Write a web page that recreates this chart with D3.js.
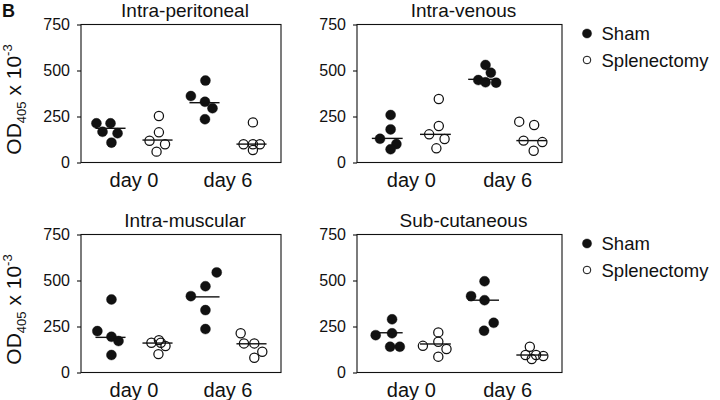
<!DOCTYPE html>
<html>
<head>
<meta charset="utf-8">
<script src="https://cdn.jsdelivr.net/npm/d3@7"></script>
<style>
  body { margin: 0; background: #fff; }
  svg { display: block; font-family: "Liberation Sans", Arial, Helvetica, sans-serif; }
</style>
</head>
<body>
<svg id="chart" width="720" height="400"></svg>
<script>
// ---------------- data ----------------
const days = ["day 0", "day 6"];
const groups = ["Sham", "Splenectomy"];
const yTicks = [0, 250, 500, 750];
const titles = ["Intra-peritoneal", "Intra-venous", "Intra-muscular", "Sub-cutaneous"];

// order of sub-arrays: Sham day 0, Splenectomy day 0, Sham day 6, Splenectomy day 6
const ipValues = [[213, 213, 167, 159, 108], [253, 164, 118, 99, 59], [445, 361, 330, 295, 235], [218, 99, 99, 99, 68]];
const ivValues = [[258, 180, 129, 100, 72], [345, 198, 153, 128, 77], [530, 488, 448, 436, 434], [222, 204, 119, 111, 64]];
const imValues = [[397, 225, 194, 171, 95], [162, 176, 162, 144, 100], [544, 469, 415, 339, 236], [213, 158, 158, 113, 80]];
const scValues = [[289, 203, 213, 140, 140], [218, 167, 145, 128, 86], [496, 415, 393, 270, 227], [140, 95, 95, 90, 73]];

// horizontal bar (median) values
const ipMedians = [186, 122, 325, 100];
const ivMedians = [131, 153, 452, 119];
const imMedians = [191, 160, 411, 156];
const scMedians = [216, 155, 393, 95];

// horizontal scatter of each point (fraction of one group slot)
const ipJitter = [[-0.30, 0, -0.17, 0.15, 0.02], [0.03, 0.03, -0.17, 0.16, -0.02], [0.02, -0.29, 0.01, 0.17, 0.01], [0.03, -0.17, 0.03, 0.18, 0.03]];
const ivJitter = [[0.07, 0.07, -0.15, 0.19, 0.07], [0.07, 0.07, -0.13, 0.19, 0.02], [0.04, 0.15, -0.11, 0.04, 0.26], [-0.26, 0.05, -0.17, 0.22, 0.04]];
const imJitter = [[0.02, -0.28, 0.02, 0.17, 0.02], [-0.13, 0.03, 0.07, 0.17, 0.02], [0.26, 0.02, -0.29, 0.02, 0.02], [-0.23, -0.16, 0.06, 0.23, 0.06]];
const scJitter = [[0.10, -0.24, 0.10, 0.06, 0.26], [0.06, 0.06, -0.26, 0.23, 0.06], [0.02, -0.26, 0.02, 0.21, 0.01], [-0.04, -0.13, 0.09, 0.24, 0]];

// ---------------- layout ----------------
const panels = [
  { title: titles[0], values: ipValues, medians: ipMedians, jitter: ipJitter, x0: 81,  x1: 281, y0: 24.5,  y1: 162.5, legend: false, ylabel: true },
  { title: titles[1], values: ivValues, medians: ivMedians, jitter: ivJitter, x0: 357, x1: 562, y0: 24.5,  y1: 162.5, legend: true,  ylabel: false },
  { title: titles[2], values: imValues, medians: imMedians, jitter: imJitter, x0: 81,  x1: 281, y0: 234.5, y1: 372.5, legend: false, ylabel: true },
  { title: titles[3], values: scValues, medians: scMedians, jitter: scJitter, x0: 357, x1: 562, y0: 234.5, y1: 372.5, legend: true,  ylabel: false }
];

const ink = "#111";
const svg = d3.select("#chart");

svg.append("text")
  .attr("x", 2).attr("y", 17)
  .attr("font-size", 18).attr("font-weight", "bold").attr("fill", ink)
  .text("B");

panels.forEach(p => {
  const y = d3.scaleLinear().domain([0, 750]).range([p.y1, p.y0]);
  const xDay = d3.scaleBand().domain(days).range([p.x0, p.x1]).paddingInner(0).paddingOuter(0.064);
  const xGrp = d3.scaleBand().domain(groups).range([0, xDay.bandwidth()]);
  const slot = xGrp.bandwidth();

  const g = svg.append("g");

  // frame
  g.append("rect")
    .attr("x", p.x0).attr("y", p.y0)
    .attr("width", p.x1 - p.x0).attr("height", p.y1 - p.y0)
    .attr("fill", "none").attr("stroke", ink).attr("stroke-width", 1.1);

  // y axis
  g.append("g")
    .attr("transform", `translate(${p.x0},0)`)
    .call(d3.axisLeft(y).tickValues(yTicks).tickSize(4).tickPadding(7).tickFormat(d3.format("d")))
    .call(a => a.select(".domain").remove())
    .call(a => a.selectAll("line").attr("stroke", ink).attr("stroke-width", 1.1))
    .call(a => a.selectAll("text").attr("font-size", 16).attr("fill", ink).attr("font-family", null));

  // x axis labels
  g.append("g")
    .attr("transform", `translate(0,${p.y1})`)
    .call(d3.axisBottom(xDay).tickSize(0))
    .call(a => a.select(".domain").remove())
    .call(a => a.selectAll("text").attr("dy", null).attr("y", 24)
      .attr("font-size", 20).attr("fill", ink).attr("font-family", null));

  // title
  g.append("text")
    .attr("x", (p.x0 + p.x1) / 2 + 4).attr("y", p.y0 - 7.5)
    .attr("text-anchor", "middle").attr("font-size", 19).attr("fill", ink)
    .text(p.title);

  // data
  const cells = [];
  days.forEach((d, di) => groups.forEach((grp, gi) => cells.push({ day: d, group: grp, idx: di * 2 + gi })));

  cells.forEach(c => {
    const cx = xDay(c.day) + xGrp(c.group) + slot / 2;
    const vals = p.values[c.idx];
    const jit = p.jitter[c.idx];
    const filled = c.group === "Sham";
    g.selectAll(null)
      .data(vals.map((v, i) => ({ v, j: jit[i] })))
      .join("circle")
      .attr("cx", d => cx + d.j * slot)
      .attr("cy", d => y(d.v))
      .attr("r", filled ? 5 : 4.6)
      .attr("fill", filled ? ink : "none")
      .attr("stroke", ink)
      .attr("stroke-width", filled ? 0.4 : 1.25);
    const m = p.medians[c.idx];
    g.append("line")
      .attr("x1", cx - 0.32 * slot).attr("x2", cx + 0.32 * slot)
      .attr("y1", y(m)).attr("y2", y(m))
      .attr("stroke", ink).attr("stroke-width", 1.4);
  });

  // y label
  if (p.ylabel) {
    const t = g.append("text")
      .attr("transform", `translate(21,${(p.y0 + p.y1) / 2 + 6}) rotate(-90)`)
      .attr("text-anchor", "middle").attr("font-size", 21).attr("fill", ink);
    t.append("tspan").text("OD");
    t.append("tspan").attr("font-size", 13).attr("dy", 5).text("405");
    t.append("tspan").attr("dy", -5).text(" x 10");
    t.append("tspan").attr("font-size", 13).attr("dy", -9).text("-3");
  }

  // legend
  if (p.legend) {
    const lg = g.append("g").attr("transform", `translate(587,${p.y0})`);
    groups.forEach((grp, i) => {
      const row = lg.append("g").attr("transform", `translate(0,${9 + i * 26.5})`);
      row.append("circle")
        .attr("r", i === 0 ? 4.6 : 3.8)
        .attr("fill", i === 0 ? ink : "none")
        .attr("stroke", ink).attr("stroke-width", i === 0 ? 0.4 : 1);
      row.append("text")
        .attr("x", 14.5).attr("y", 6.7)
        .attr("font-size", 18.5).attr("fill", ink)
        .text(grp);
    });
  }
});
</script>
</body>
</html>
